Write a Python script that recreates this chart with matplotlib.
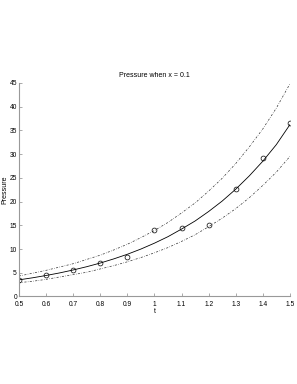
import matplotlib
matplotlib.use("Agg")
import matplotlib.pyplot as plt

# measured samples (circles)
t_obs = [0.5, 0.6, 0.7, 0.8, 0.9, 1.0, 1.1, 1.2, 1.3, 1.4, 1.5]
p_obs = [3.5, 4.6, 5.5, 7.1, 8.3, 13.9, 14.4, 15.0, 22.7, 29.2, 36.6]

# fitted curve and bounds
t_fit = [0.5, 0.55, 0.6, 0.65, 0.7, 0.75, 0.8, 0.85, 0.9, 0.95, 1.0,
         1.05, 1.1, 1.15, 1.2, 1.25, 1.3, 1.35, 1.4, 1.45, 1.5]
p_fit = [3.5, 3.93, 4.42, 4.96, 5.58, 6.27, 7.04, 7.92, 8.89, 9.99, 11.23,
         12.6, 14.2, 15.9, 17.9, 20.1, 22.6, 25.4, 28.5, 32.0, 36.2]
p_upper = [4.3, 4.9, 5.5, 6.2, 6.9, 7.8, 8.7, 9.8, 11.0, 12.4, 13.9,
           15.6, 17.6, 19.7, 22.2, 24.9, 28.0, 31.5, 35.3, 39.7, 44.8]
p_lower = [2.9, 3.2, 3.6, 4.1, 4.6, 5.1, 5.8, 6.5, 7.3, 8.2, 9.2,
           10.3, 11.6, 13.0, 14.7, 16.5, 18.5, 20.8, 23.4, 26.2, 29.5]

xticks = [0.5, 0.6, 0.7, 0.8, 0.9, 1, 1.1, 1.2, 1.3, 1.4, 1.5]
xticklabels = ["0.5", "0.6", "0.7", "0.8", "0.9", "1", "1.1", "1.2", "1.3", "1.4", "1.5"]
yticks = [0, 5, 10, 15, 20, 25, 30, 35, 40, 45]

plt.rcParams["font.family"] = ["Liberation Sans", "DejaVu Sans"]

fig = plt.figure(figsize=(2.97, 3.84), dpi=100)
ax = fig.add_axes([0.064, 0.228, 0.912, 0.556])

ax.plot(t_fit, p_fit, color="black", lw=0.6)
ax.plot(t_fit, p_upper, color="#333333", lw=0.5, linestyle="-.", dashes=(3, 2, 0.8, 2))
ax.plot(t_fit, p_lower, color="#333333", lw=0.5, linestyle="-.", dashes=(3, 2, 0.8, 2))
ax.plot(t_obs, p_obs, "o", mfc="none", mec="black", ms=3.5, mew=0.5)

ax.set_xlim(0.5, 1.5)
ax.set_ylim(0, 45)
ax.set_xticks(xticks)
ax.set_xticklabels(xticklabels)
ax.set_yticks(yticks)

for s in ["top", "right"]:
    ax.spines[s].set_visible(False)
for s in ["left", "bottom"]:
    ax.spines[s].set_color("#999999")
    ax.spines[s].set_linewidth(0.8)

ax.tick_params(direction="in", length=2, width=0.5, colors="#888888",
               labelcolor="black", labelsize=4.8)
ax.tick_params(axis="x", pad=3)
ax.tick_params(axis="y", pad=1.5)

ax.set_title("Pressure when x = 0.1", fontsize=5, pad=4)
ax.set_xlabel("t", fontsize=5, labelpad=0.5)
ax.set_ylabel("Pressure", fontsize=5, labelpad=1)

fig.savefig("out.png", dpi=100)
